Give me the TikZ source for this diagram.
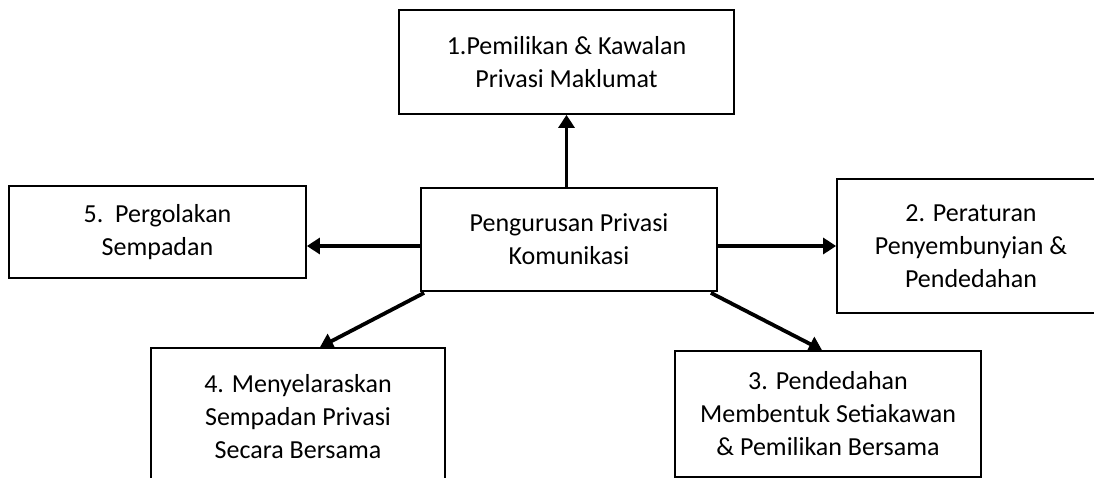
\documentclass[tikz,border=0pt]{standalone}
\usepackage{fontspec}
\setmainfont{Carlito}
\usetikzlibrary{arrows.meta,calc}
\begin{document}
\begin{tikzpicture}[x=1pt,y=-1pt,
  box/.style={draw=black,line width=1.8pt,align=center,inner sep=0pt,
    font=\fontsize{26}{33}\selectfont,text=black},
  arr/.style={line width=3.8pt,-{Triangle[length=13pt,width=16pt]}}]
\fill[white] (0,0) rectangle (1094,478);
\useasboundingbox (0,0) rectangle (1094,478);
\clip (0,0) rectangle (1094,478);
\node[box,minimum width=335pt,minimum height=104pt] (t) at (566.5,62)
  {1.Pemilikan \& Kawalan\\Privasi Maklumat};
\node[box,minimum width=296pt,minimum height=103pt] (c) at (569,239.5)
  {Pengurusan Privasi\\Komunikasi};
\node[box,minimum width=297pt,minimum height=92pt] (l) at (157.5,232)
  {5.\ \ Pergolakan\\Sempadan};
\node[box,minimum width=268pt,minimum height=134pt] (r) at (971,246)
  {2. Peraturan\\Penyembunyian \&\\Pendedahan};
\node[box,minimum width=294pt,minimum height=138pt] (bl) at (298,417)
  {4. Menyelaraskan\\Sempadan Privasi\\Secara Bersama};
\node[box,minimum width=306pt,minimum height=126pt] (br) at (828,414)
  {3. Pendedahan\\Membentuk Setiakawan\\\& Pemilikan Bersama};
\draw[arr] (c.north -| t.south) -- (t.south);
\draw[arr] (c.east |- r.west) -- (r.west);
\draw[arr] (c.west |- r.west) -- (l.east |- r.west);
\draw[arr] ($(c.south west)+(4,1)$) -- ($(bl.north)+(22,0)$);
\draw[arr] ($(c.south east)+(-7,1)$) -- ($(br.north)+(-6,0)$);
\end{tikzpicture}
\end{document}
